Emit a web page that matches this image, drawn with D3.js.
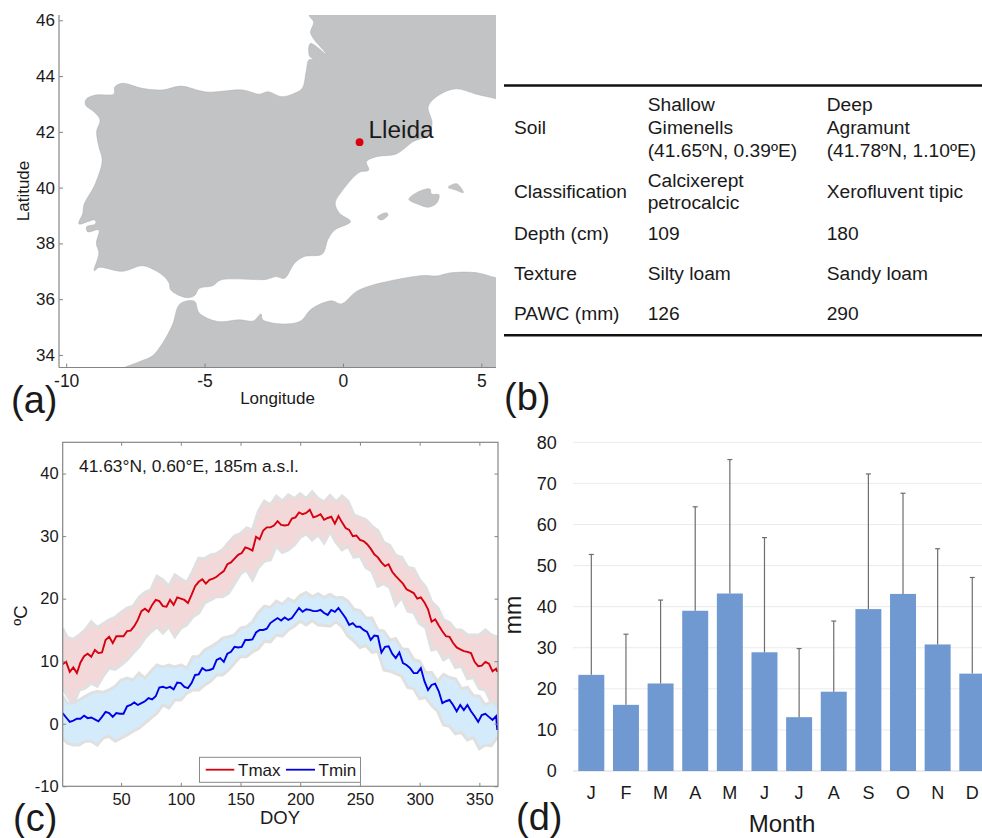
<!DOCTYPE html>
<html><head><meta charset="utf-8">
<script src="https://d3js.org/d3.v7.min.js"></script>
<style>
html,body{margin:0;padding:0;background:#fff;overflow:hidden}
svg{display:block}
text{font-family:"Liberation Sans",Arial,sans-serif}
</style></head><body><svg id="c" width="982" height="838"></svg>
<script>
// ---------- (a) map ----------
const iberiaLon=[-1.23,-1.23,-1.06,-1.17,-1.10,-0.60,-1.18,-1.21,-1.05,-1.23,-1.33,-1.47,-1.81,-2.22,-2.72,-3.02,-3.62,-4.95,-5.86,-6.52,-7.25,-7.97,-8.25,-8.27,-8.94,-9.28,-9.30,-9.00,-8.78,-8.90,-8.82,-8.70,-8.94,-9.36,-9.40,-9.54,-8.96,-8.94,-9.26,-9.23,-8.82,-8.91,-8.82,-8.99,-8.82,-7.97,-7.25,-6.76,-6.46,-6.28,-6.22,-5.68,-5.37,-5.19,-4.71,-4.41,-2.78,-2.42,-2.11,-1.75,-1.39,-0.75,-0.54,-0.30,0.27,-0.12,-0.28,0,0.58,0.93,0.85,1.21,1.93,2.54,3.08,3.22,3.08,3.38,4.05,4.83,5.53,6.5,6.5];
const iberiaLat=[47,46.19,45.94,45.58,45.39,44.78,45.17,44.72,44.60,44.58,44.16,43.56,43.36,43.26,43.44,43.35,43.50,43.43,43.64,43.50,43.56,43.74,43.60,43.36,43.32,43.17,42.96,42.72,42.43,42.01,41.47,40.99,40.16,39.38,39.08,38.70,38.84,38.70,38.60,38.42,38.48,38.00,37.65,37.02,37.14,37.00,37.20,37.02,36.81,36.57,36.33,36.06,36.12,36.39,36.48,36.69,36.71,36.81,36.75,37.29,37.53,37.62,38.15,38.48,38.78,39.08,39.44,39.92,40.54,40.63,40.93,41.11,41.21,41.65,41.89,42.31,42.90,43.26,43.54,43.35,43.19,43.0,47];
const africaLon=[-8.6,-7.91,-7.25,-6.88,-6.52,-6.16,-5.89,-5.37,-5.19,-4.53,-3.74,-3.24,-2.96,-2.90,-2.05,-1.51,-1.15,-0.42,-0.06,0.48,1.09,2.90,3.38,3.86,4.83,5.53,6.5,6.5];
const africaLat=[33.3,33.55,33.80,33.97,34.42,35.08,35.83,35.93,35.50,35.20,35.26,35.22,35.47,35.26,35.11,35.23,35.64,35.94,35.83,36.27,36.51,36.85,36.83,36.94,36.95,36.77,36.6,32.5];
const mallorcaLon=[2.38,2.66,3.14,3.20,3.47,3.38,3.08,2.78,2.48];
const mallorcaLat=[39.58,39.82,39.95,39.77,39.74,39.44,39.30,39.38,39.50];
const menorcaLon=[3.80,4.11,4.35,4.05];
const menorcaLat=[40.01,40.14,39.82,39.92];
const ibizaLon=[1.24,1.57,1.63,1.39];
const ibizaLat=[38.94,39.10,39.02,38.84];
const lleida=[0.6,41.63];
const lonTicks=[-10,-5,0,5];
const latTicks=[34,36,38,40,42,44,46];

// ---------- (b) table ----------
const tableLabels=["Soil","Classification","Depth (cm)","Texture","PAWC (mm)"];
const tableShallow=[["Shallow","Gimenells","(41.65ºN, 0.39ºE)"],["Calcixerept","petrocalcic"],["109"],["Silty loam"],["126"]];
const tableDeep=[["Deep","Agramunt","(41.78ºN, 1.10ºE)"],["Xerofluvent tipic"],["180"],["Sandy loam"],["290"]];

// ---------- (c) temperature ----------
const doy=[1,4,7,10,13,16,19,22,25,28,31,34,37,40,43,46,49,52,55,58,61,64,67,70,73,76,79,82,85,88,91,94,97,100,103,106,109,112,115,118,121,124,127,130,133,136,139,142,145,148,151,154,157,160,163,166,169,172,175,178,181,184,187,190,193,196,199,202,205,208,211,214,217,220,223,226,229,232,235,238,241,244,247,250,253,256,259,262,265,268,271,274,277,280,283,286,289,292,295,298,301,304,307,310,313,316,319,322,325,328,331,334,337,340,343,346,349,352,355,358,361,364,365];
const tmax=[9.5,9.9,8.3,9.0,8.1,9.8,10.8,11.2,10.7,11.8,11.3,11.4,13.4,13.9,12.9,14.0,14.0,14.0,14.8,14.9,15.6,16.6,18.0,18.4,17.9,19.0,19.8,19.6,18.8,18.7,19.8,19.0,20.2,20.0,19.8,19.3,20.6,22.0,22.7,23.1,22.4,23.0,23.2,23.5,24.0,24.4,25.5,25.8,26.4,27.0,27.3,28.2,28.0,27.7,29.9,29.5,30.9,31.4,31.4,31.7,32.4,31.8,31.7,31.8,32.8,33.0,33.8,33.5,33.7,34.2,33.0,33.2,33.5,32.6,32.9,33.1,32.0,33.2,32.2,31.3,31.0,30.0,30.1,29.4,29.2,28.7,28.0,27.1,26.6,25.8,25.2,25.5,24.3,23.6,23.0,22.4,21.5,21.2,20.9,20.0,20.2,19.4,18.3,16.3,16.7,15.7,14.8,14.0,13.9,12.9,12.2,11.9,11.6,11.5,11.3,9.9,9.2,9.3,9.9,9.6,8.4,8.8,8.3];
const tmin=[1.7,1.0,0.3,0.5,0.8,0.8,1.3,0.9,1.0,0.7,0.4,1.1,1.9,1.7,1.1,1.7,1.6,1.6,2.8,3.0,3.4,3.0,3.3,3.6,4.1,3.9,4.4,5.8,5.9,5.7,5.9,5.5,6.6,6.5,5.9,5.7,6.5,7.8,7.9,8.9,8.5,8.6,8.8,10.2,10.5,9.9,11.2,11.5,12.3,12.2,12.3,13.4,13.4,13.5,14.6,15.0,15.0,15.2,16.1,16.5,16.9,16.5,17.0,16.6,16.9,17.7,18.5,17.9,18.3,18.2,18.0,18.0,18.2,17.7,17.4,18.2,17.9,18.5,17.7,16.9,15.8,16.1,15.5,15.5,15.0,14.7,13.4,14.1,14.0,11.4,12.3,12.4,11.2,10.5,11.4,9.7,9.4,8.9,8.1,8.1,8.9,6.8,5.4,6.2,6.4,5.2,3.3,3.6,3.8,3.0,2.0,3.0,2.2,3.0,2.0,1.2,0.3,1.4,1.6,1.1,0.6,1.2,-1.0];
const bandDoy=[1,5,10,15,20,25,30,35,40,45,50,55,60,65,70,75,80,85,90,95,100,105,110,115,120,125,130,135,140,145,150,155,160,165,170,175,180,185,190,195,200,205,210,215,220,225,230,235,240,245,250,255,260,265,270,275,280,285,290,295,300,305,310,315,320,325,330,335,340,345,350,355,360,365];
const tmaxUpper=[15.3,13.8,13.5,14.2,15,16.3,15.4,16,16.6,17,17.8,18.5,18.8,20.2,21,21.4,23.6,23,22,23.8,23.2,22.6,24.4,26.5,26.4,27,27.2,27.8,29,30,30.4,31.3,31,34,35.6,35,36.4,35.6,36.6,36,36.8,36,37.1,36,35.5,36.5,35.5,36.4,35.6,33.4,33,32.6,31.6,30.9,29,28.5,26.9,26.6,25,24.8,23,21.9,19.5,18.6,16.6,16.2,15,15,14.2,14.2,14.2,15,14.2,13.9];
const tmaxLower=[5.7,4.4,3,5.4,5.7,6.5,6,7.6,8.9,8.7,9.4,10.2,11.3,12.3,13.7,14.7,15.5,14.5,15.5,13.9,15.3,15.8,17.1,17.7,19.3,19.8,20.3,20.3,20.9,22.4,24,24.6,23,25,26,26.2,28.4,27.4,27.8,28.6,29.8,30.4,29.4,30.2,28.9,30.7,29,27.8,28.4,26.6,26.8,25,24.4,22,22.4,21.8,19,20.2,18,17.8,16,15.4,11.8,12,10.2,10.8,9,9.2,7.2,7.4,5.6,5.4,3.4,3.2];
const tminUpper=[4.4,3.3,3.3,3.8,4.4,4.9,5.2,5,5.4,6,7,7.3,7,8.1,7.3,8.4,9.4,9.1,9.4,9.1,9.4,8.9,10.7,10.7,11.8,12.3,12.9,13.7,13.9,14.2,15.3,15.5,16.3,17.8,18.8,18.6,19.6,19.1,20,19.5,20.5,21,20.3,20.8,20.2,20.7,20.1,20.2,19.6,18.3,18.1,16.9,16.9,15,14.8,13.4,13.6,12,11.9,10.3,10,8.2,8.2,6.8,7.9,7.4,7.2,5.6,5.8,4.5,4.4,3,3.6,2.8];
const tminLower=[-2.3,-3.1,-3.4,-3.4,-2.8,-2.8,-3.4,-2.3,-2,-2.8,-2.3,-1.8,-1.2,-0.7,0.1,0.9,1.7,3,2.5,3.8,3.8,4.9,5.4,5.4,6.2,6.8,7.8,7.8,8.6,9.7,10.7,10.7,11.5,12,13.2,13.1,14.2,14,15,15.6,16.4,15.8,16.5,15.8,15.7,15.6,16.3,15.5,14,13.2,12.2,12.5,11.4,11.6,8.6,8.4,8,7.6,5.8,5.6,4,4.2,2.9,2,-0.2,-0.4,-1.6,-1.4,-2.6,-2.2,-4,-3.4,-3.5,-2.2];
const doyTicks=[50,100,150,200,250,300,350];
const tempTicks=[-10,0,10,20,30,40];

// ---------- (d) rainfall ----------
const months=["J","F","M","A","M","J","J","A","S","O","N","D"];
const rainMean=[23.4,16.1,21.3,39,43.2,28.9,13.1,19.3,39.4,43.1,30.8,23.7];
const rainUpper=[52.7,33.3,41.6,64.3,75.8,56.8,29.8,36.5,72.3,67.6,54.1,47.1];
const rainTicks=[0,10,20,30,40,50,60,70,80];

const svg=d3.select("#c");
const AXIS="#858585", TXT="#1a1a1a";
function label(x,y,s,size,anchor,rot,col){
  const t=svg.append("text").attr("font-size",size).attr("fill",col||TXT)
    .attr("text-anchor",anchor||"start").text(s);
  if(rot) t.attr("transform",`translate(${x},${y}) rotate(${rot})`);
  else t.attr("x",x).attr("y",y);
  return t;
}
function styleAxis(g,size){
  g.selectAll(".domain").remove();
  g.selectAll(".tick line").attr("stroke",AXIS).attr("stroke-width",1);
  g.selectAll(".tick text").attr("font-size",size).attr("fill",TXT)
    .style("font-family",'"Liberation Sans",Arial,sans-serif');
}

// ===== (a) =====
const mapL=59,mapR=496,mapT=15,mapB=367.5;
const xMap=d3.scaleLinear().domain([-10.26,5.53]).range([mapL,mapR]);
const yMap=d3.scaleLinear().domain([33.55,46.19]).range([mapB,mapT]);
svg.append("clipPath").attr("id","mapclip").append("rect").attr("x",mapL).attr("y",mapT).attr("width",mapR-mapL).attr("height",mapB-mapT);
const mapLine=d3.line().x(d=>xMap(d[0])).y(d=>yMap(d[1])).curve(d3.curveCatmullRomClosed.alpha(0.5));
const landG=svg.append("g").attr("clip-path","url(#mapclip)");
[[iberiaLon,iberiaLat],[africaLon,africaLat],[mallorcaLon,mallorcaLat],[menorcaLon,menorcaLat],[ibizaLon,ibizaLat]].forEach(([lo,la])=>{
  landG.append("path").attr("d",mapLine(d3.zip(lo,la)))
    .attr("fill","#c1c3c5").attr("stroke","#adafb1").attr("stroke-width",0.5);
});
svg.append("line").attr("x1",mapL).attr("x2",mapL).attr("y1",mapT).attr("y2",mapB).attr("stroke",AXIS).attr("stroke-width",1.2);
svg.append("line").attr("x1",mapL).attr("x2",mapR).attr("y1",mapB).attr("y2",mapB).attr("stroke",AXIS).attr("stroke-width",1.2);
svg.append("g").attr("transform",`translate(${mapL},0)`)
  .call(d3.axisLeft(yMap).tickValues(latTicks).tickSize(-4).tickPadding(4)).call(styleAxis,17);
svg.append("g").attr("transform",`translate(0,${mapB})`)
  .call(d3.axisBottom(xMap).tickValues(lonTicks).tickSize(-4).tickPadding(7).tickFormat(d=>String(d))).call(styleAxis,17.5);
svg.append("circle").attr("cx",xMap(lleida[0])).attr("cy",yMap(lleida[1])).attr("r",3.9).attr("fill","#d9000f");
label(368.5,138,"Lleida",24.4);
label(277.5,404,"Longitude",17,"middle");
label(29,191,"Latitude",17,"middle",-90);
label(11,413,"(a)",38);

// ===== (b) =====
const ruleL=504,colX=[514,647.7,826.7];
svg.append("line").attr("x1",ruleL).attr("x2",982).attr("y1",85.5).attr("y2",85.5).attr("stroke","#111").attr("stroke-width",2.4);
svg.append("line").attr("x1",ruleL).attr("x2",982).attr("y1",335.3).attr("y2",335.3).attr("stroke","#111").attr("stroke-width",2.4);
const rowMid=[134,197.7,240,280,320], lineStep=[23,21.6,0,0,0];
tableLabels.forEach((s,i)=>{
  label(colX[0],rowMid[i],s,19.2);
  [tableShallow,tableDeep].forEach((col,c)=>{
    const ls=col[i], off=(ls.length-1)/2;
    ls.forEach((t,j)=>label(colX[c+1],rowMid[i]+(j-off)*lineStep[i],t,19.2));
  });
});
label(504,410,"(b)",38);

// ===== (c) =====
const cL=62.7,cR=498,cT=442.3,cB=786.3;
const xT=d3.scaleLinear().domain([1.1,365.6]).range([cL,cR]);
const yT=d3.scaleLinear().domain([-10,45]).range([cB,cT]);
svg.append("clipPath").attr("id","tclip").append("rect").attr("x",cL).attr("y",cT).attr("width",cR-cL).attr("height",cB-cT);
const plot=svg.append("g").attr("clip-path","url(#tclip)");
const bandLine=d3.line().x(d=>xT(d[0])).y(d=>yT(d[1]));
function band(up,lo,fill){
  plot.append("path").attr("fill",fill)
    .attr("d",d3.area().x(d=>xT(d[0])).y0(d=>yT(d[2])).y1(d=>yT(d[1]))(d3.zip(bandDoy,up,lo)));
  [up,lo].forEach(v=>plot.append("path").attr("fill","none").attr("stroke","#e0e0e0").attr("stroke-width",3)
    .attr("d",bandLine(d3.zip(bandDoy,v))));
}
band(tmaxUpper,tmaxLower,"#f3d8da");
band(tminUpper,tminLower,"#d3ebfa");
[[tmax,"#d7000f"],[tmin,"#0000e6"]].forEach(([v,col])=>{
  plot.append("path").attr("fill","none").attr("stroke",col).attr("stroke-width",1.9)
    .attr("d",d3.line().x(d=>xT(d[0])).y(d=>yT(d[1]))(d3.zip(doy,v)));
});
svg.append("rect").attr("x",cL).attr("y",cT).attr("width",cR-cL).attr("height",cB-cT).attr("fill","none").attr("stroke",AXIS).attr("stroke-width",1.2);
svg.append("g").attr("transform",`translate(${cL},0)`).call(d3.axisLeft(yT).tickValues(tempTicks).tickSize(-3.5).tickPadding(4).tickFormat(d=>String(d))).call(styleAxis,16.5);
svg.append("g").attr("transform",`translate(${cR},0)`).call(d3.axisRight(yT).tickValues(tempTicks).tickSize(-3.5).tickFormat("")).call(styleAxis,16.5);
svg.append("g").attr("transform",`translate(0,${cB})`).call(d3.axisBottom(xT).tickValues(doyTicks).tickSize(-3.5).tickPadding(7)).call(styleAxis,16.5);
svg.append("g").attr("transform",`translate(0,${cT})`).call(d3.axisTop(xT).tickValues(doyTicks).tickSize(-3.5).tickFormat("")).call(styleAxis,16.5);
label(79,472,"41.63°N, 0.60°E, 185m a.s.l.",17.4);
label(280,824,"DOY",18.5,"middle");
label(27,615.5,"ºC",19,"middle",-90);
label(13,831,"(c)",38);
// legend
svg.append("rect").attr("x",199.5).attr("y",757.3).attr("width",161).attr("height",25).attr("fill","#fff").attr("stroke","#8a8a8a").attr("stroke-width",1);
svg.append("line").attr("x1",205.7).attr("x2",234.3).attr("y1",769.7).attr("y2",769.7).attr("stroke","#d7000f").attr("stroke-width",1.8);
svg.append("line").attr("x1",286).attr("x2",315).attr("y1",769.7).attr("y2",769.7).attr("stroke","#0000e6").attr("stroke-width",1.8);
label(238,775.7,"Tmax",17);
label(318.5,775.7,"Tmin",17);

// ===== (d) =====
const y0=771,y80=442.3;
const xR=d3.scaleBand().domain(d3.range(12)).range([574,989.6]).paddingInner(0.25).paddingOuter(0.125);
const yR=d3.scaleLinear().domain([0,80]).range([y0,y80]);
rainTicks.forEach(t=>svg.append("line").attr("x1",573).attr("x2",982).attr("y1",yR(t)).attr("y2",yR(t))
  .attr("stroke",t==0?"#d9d9d9":"#ebebeb").attr("stroke-width",1));
svg.append("g").selectAll("rect").data(rainMean).join("rect")
  .attr("x",(d,i)=>xR(i)).attr("width",xR.bandwidth()).attr("y",d=>yR(d)).attr("height",d=>y0-yR(d)).attr("fill","#7099d2");
svg.append("g").selectAll("g").data(rainUpper).join("g").each(function(d,i){
  const g=d3.select(this),cx=xR(i)+xR.bandwidth()/2;
  g.append("line").attr("x1",cx).attr("x2",cx).attr("y1",yR(rainMean[i])).attr("y2",yR(d)).attr("stroke","#6e6e6e").attr("stroke-width",1.2);
  g.append("line").attr("x1",cx-2.5).attr("x2",cx+2.5).attr("y1",yR(d)).attr("y2",yR(d)).attr("stroke","#6e6e6e").attr("stroke-width",1.2);
});
svg.append("g").attr("transform","translate(556.7,0)").call(d3.axisLeft(yR).tickValues(rainTicks).tickSize(0).tickPadding(0)).call(styleAxis,18);
months.forEach((m,i)=>label(xR(i)+xR.bandwidth()/2,799,m,18,"middle"));
label(782,831.5,"Month",24,"middle");
label(520.5,615,"mm",23,"middle",-90);
label(516,830,"(d)",38);
</script></body></html>
